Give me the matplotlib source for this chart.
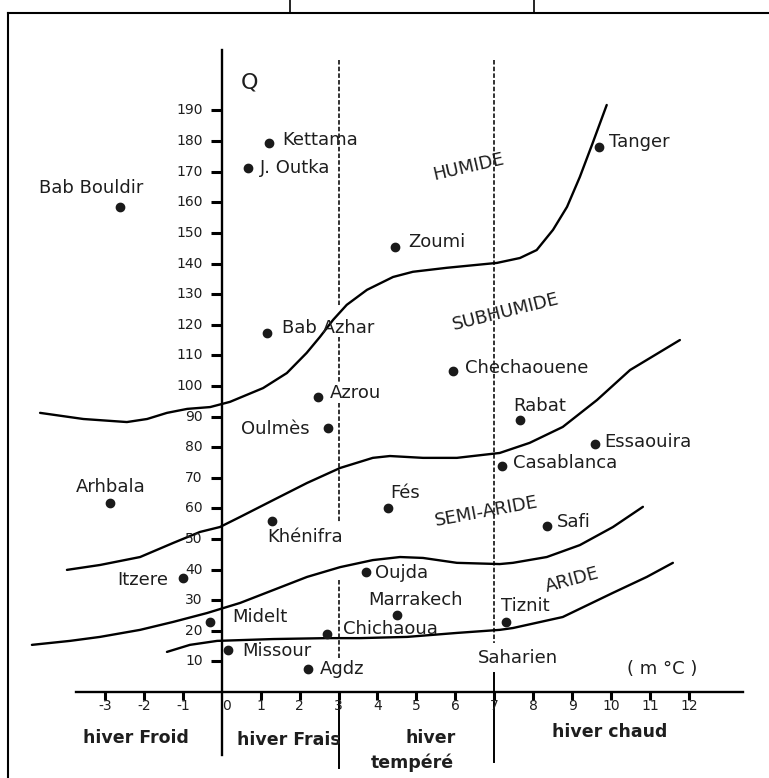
import matplotlib.pyplot as plt
from matplotlib.lines import Line2D

plt.rcParams['font.family'] = ['DejaVu Sans']

# Climagramme d'Emberger : stations (m en °C, Q)
stations = ["Kettama", "J. Outka", "Bab Bouldir", "Bab Azhar", "Azrou", "Oulmès",
            "Zoumi", "Tanger", "Chechaouene", "Rabat", "Essaouira", "Casablanca",
            "Fés", "Safi", "Tiznit", "Arhbala", "Khénifra", "Itzere", "Midelt",
            "Chichaoua", "Missour", "Agdz", "Oujda", "Marrakech"]
m_stations = [1.21, 0.67, -2.61, 1.16, 2.47, 2.73,
              4.45, 9.69, 5.94, 7.66, 9.59, 7.19,
              4.27, 8.35, 7.30, -2.87, 1.29, -0.99, -0.30,
              2.70, 0.16, 2.21, 3.70, 4.50]
q_stations = [179.4, 171.2, 158.5, 117.3, 96.4, 86.3,
              145.4, 178.1, 104.9, 88.9, 81.0, 73.9,
              60.1, 54.2, 22.9, 61.8, 55.9, 37.3, 22.9,
              19.0, 13.7, 7.5, 39.2, 25.2]

# limites entre étages
humide_m = [-4.67, -3.56, -2.44, -1.92, -1.41, -0.89, -0.30, 0.21, 1.06, 1.67, 2.18,
            2.52, 2.86, 3.21, 3.73, 4.40, 4.91, 5.78, 7.07, 7.66, 8.09, 8.51, 8.87,
            9.20, 9.53, 9.89]
humide_q = [91.2, 89.2, 88.2, 89.2, 91.2, 92.5, 93.1, 94.8, 99.3, 104.2, 110.8,
            116.0, 121.6, 126.5, 131.4, 135.6, 137.3, 138.6, 140.2, 141.8, 144.4,
            151.0, 158.5, 168.3, 179.4, 191.8]

subhumide_m = [-3.98, -3.13, -2.10, -1.25, -0.56, -0.05, 0.47, 1.32, 2.19, 3.04, 3.88,
               4.32, 5.17, 6.04, 7.14, 7.91, 8.76, 9.64, 10.49, 11.77]
subhumide_q = [39.9, 41.5, 44.1, 48.7, 52.3, 53.9, 57.2, 62.7, 68.3, 73.2, 76.5,
               77.1, 76.5, 76.5, 78.1, 81.4, 86.6, 95.4, 105.2, 115.0]

semiaride_m = [-4.88, -3.90, -3.13, -2.10, -1.25, -0.38, 0.47, 1.32, 2.19, 3.04, 3.88,
               4.58, 5.17, 6.04, 7.14, 7.48, 8.35, 9.20, 10.05, 10.82]
semiaride_q = [15.4, 16.7, 18.0, 20.3, 22.9, 25.8, 29.1, 33.3, 37.6, 40.8, 43.1,
               44.1, 43.8, 42.2, 41.8, 42.2, 44.1, 48.0, 53.9, 60.5]

aride_m = [-1.41, -0.82, -0.12, 1.32, 2.70, 3.55, 4.76, 6.04, 7.14, 7.48, 8.76,
           10.05, 10.92, 11.59]
aride_q = [13.1, 15.4, 16.7, 17.3, 17.6, 17.6, 18.0, 19.3, 20.3, 20.9, 24.5,
           32.4, 37.6, 42.2]

x_ticks = [-3, -2, -1, 1, 2, 3, 4, 5, 6, 7, 8, 9, 10, 11, 12]
x_labels = ["-3", "-2", "-1", "0", "1", "2", "3", "4", "5", "6", "7", "8", "9",
            "10", "11", "12"]
x_label_pos = [-3, -2, -1, 0.13, 1, 2, 3, 4, 5, 6, 7, 8, 9, 10, 11, 12]
q_ticks = [10, 20, 30, 40, 50, 60, 70, 80, 90, 100, 110, 120, 130, 140, 150,
           160, 170, 180, 190]

# placement des étiquettes (pixels : dx, dy, alignement)
place = {
    "Kettama": (13, 3, 'left'), "J. Outka": (12, 0, 'left'),
    "Bab Bouldir": (-29, 19, 'center'), "Bab Azhar": (15, 5, 'left'),
    "Azrou": (12, 4, 'left'), "Oulmès": (-18, -1, 'right'),
    "Zoumi": (13, 5, 'left'), "Tanger": (10, 5, 'left'),
    "Chechaouene": (12, 3, 'left'), "Rabat": (20, 14, 'center'),
    "Essaouira": (9, 2, 'left'), "Casablanca": (11, 3, 'left'),
    "Fés": (17, 15, 'center'), "Safi": (10, 4, 'left'),
    "Tiznit": (19, 16, 'center'), "Arhbala": (1, 16, 'center'),
    "Khénifra": (33, -16, 'center'), "Itzere": (-15, -2, 'right'),
    "Midelt": (22, 5, 'left'), "Chichaoua": (16, 5, 'left'),
    "Missour": (14, -1, 'left'), "Agdz": (12, 0, 'left'),
    "Oujda": (9, -1, 'left'), "Marrakech": (19, 15, 'center'),
}
PX = 72 / 100
txt = '#1e1e1e'

fig = plt.figure(figsize=(7.69, 7.78), dpi=100)
ax = fig.add_axes([0, 0, 1, 1])
ax.set_xlim(-5.70, 14.06)
ax.set_ylim(-28.1, 226.1)
ax.axis('off')

# cadre
fig.add_artist(Line2D([0.0104, 1], [0.9833, 0.9833], color='k', lw=1.5, transform=fig.transFigure))
fig.add_artist(Line2D([0.0104, 0.0104], [0, 0.9833], color='k', lw=1.5, transform=fig.transFigure))
for xf in [0.377, 0.694]:
    fig.add_artist(Line2D([xf, xf], [0.9833, 1], color='k', lw=1.2, transform=fig.transFigure))

# axes
ax.plot([0, 0], [209.8, -20.6], color='k', lw=1.7)
ax.plot([-3.74, 13.39], [0, 0], color='k', lw=1.7)
ax.plot(x_ticks, [0] * len(x_ticks), ls='none', marker=3, ms=6, mew=2.2, color='k')
ax.plot([0] * len(q_ticks), q_ticks, ls='none', marker=0, ms=8, mew=2.2, color='k')
for lab, xp in zip(x_labels, x_label_pos):
    ax.annotate(lab, (xp, 0), xytext=(0, -14 * PX), textcoords='offset points',
                ha='center', va='center', fontsize=10, color=txt)
for q in q_ticks:
    ax.annotate(str(q), (0, q), xytext=(-19 * PX, 0), textcoords='offset points',
                ha='right', va='center', fontsize=10, color=txt)

# limites hiver froid / frais / tempéré / chaud
dash = (0, (2.5, 1.2))
for q0, q1 in [(206.5, 125.8), (116.0, 101.3), (94.4, 55.2), (36.6, 11.1)]:
    ax.plot([3, 3], [q0, q1], color='#222222', lw=1.3, ls=dash)
ax.plot([3, 3], [0, -24.8], color='k', lw=1.4)
ax.plot([7, 7], [206.5, 16.0], color='#222222', lw=1.3, ls=dash)
ax.plot([7, 7], [6.2, -22.9], color='k', lw=1.4)

# courbes
for cm, cq in [(humide_m, humide_q), (subhumide_m, subhumide_q),
               (semiaride_m, semiaride_q), (aride_m, aride_q)]:
    ax.plot(cm, cq, color='k', lw=1.7, solid_capstyle='round', solid_joinstyle='round')

# stations
ax.plot(m_stations, q_stations, ls='none', marker='o', ms=6, color='#1a1a1a')
for name, m, q in zip(stations, m_stations, q_stations):
    dx, dy, ha = place[name]
    ax.annotate(name, (m, q), xytext=(dx * PX, dy * PX), textcoords='offset points',
                ha=ha, va='center', fontsize=13, color=txt)

# étages
for lab, xm, yq, rot in [("HUMIDE", 6.35, 171.6, 13), ("SUBHUMIDE", 7.30, 124.2, 14),
                         ("SEMI-ARIDE", 6.81, 58.8, 10.5), ("ARIDE", 9.00, 36.6, 15)]:
    ax.text(xm, yq, lab, rotation=rot, rotation_mode='anchor', ha='center', va='center',
            fontsize=13, color=txt)
ax.text(7.61, 11.1, "Saharien", ha='center', va='center', fontsize=13, color=txt)
ax.text(11.31, 7.5, "( m °C )", ha='center', va='center', fontsize=13, color=txt)
ax.text(0.72, 199.0, "Q", ha='center', va='center', fontsize=16, color=txt)

# types d'hiver
ax.text(-2.20, -15.0, "hiver Froid", ha='center', va='center', fontsize=12.5, fontweight='bold', color=txt)
ax.text(1.72, -15.7, "hiver Frais", ha='center', va='center', fontsize=12.5, fontweight='bold', color=txt)
ax.text(5.37, -15.0, "hiver", ha='center', va='center', fontsize=12.5, fontweight='bold', color=txt)
ax.text(4.89, -23.2, "tempéré", ha='center', va='center', fontsize=12.5, fontweight='bold', color=txt)
ax.text(9.97, -13.1, "hiver chaud", ha='center', va='center', fontsize=12.5, fontweight='bold', color=txt)

fig.savefig("out.png", dpi=100)
